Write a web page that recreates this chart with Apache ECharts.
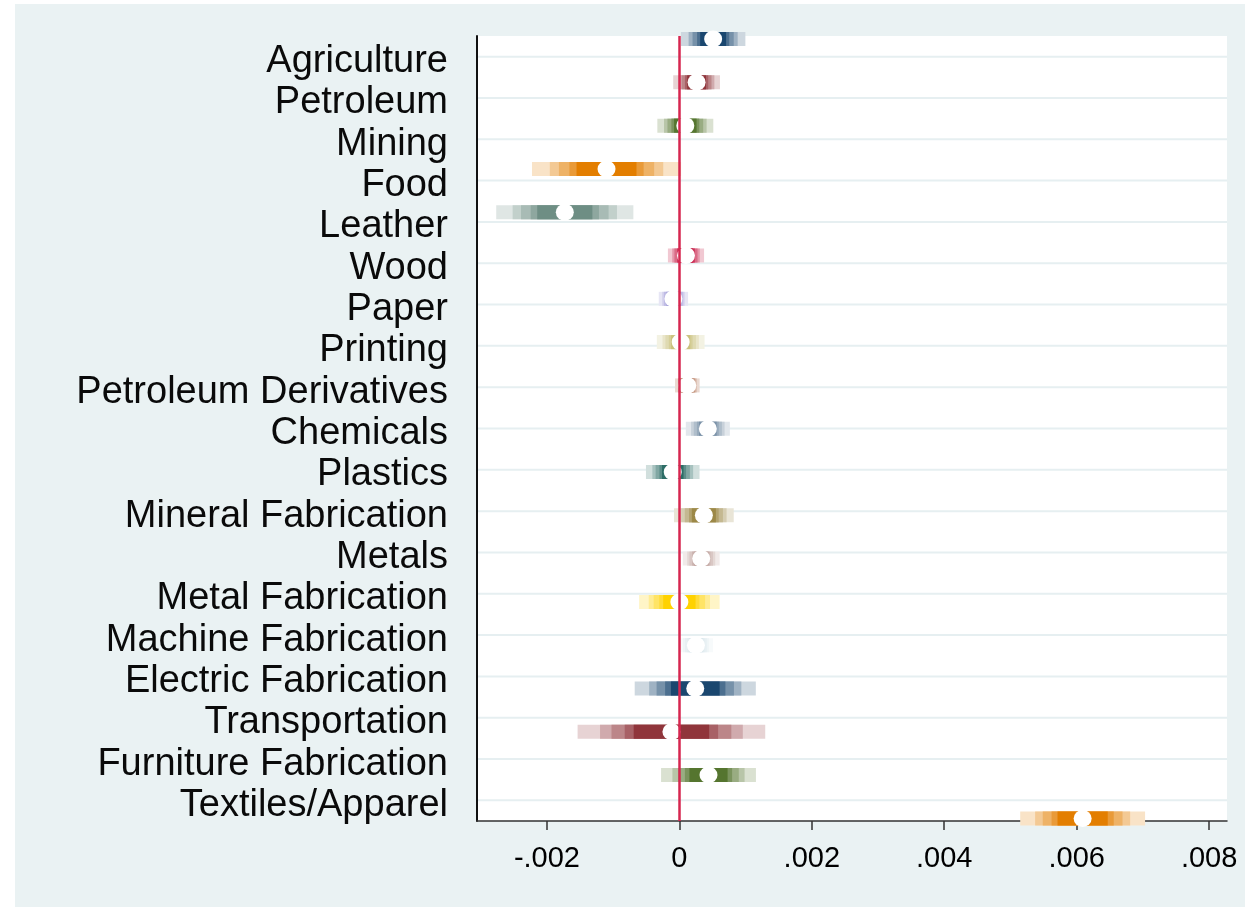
<!DOCTYPE html>
<html>
<head>
<meta charset="utf-8">
<script src="https://cdn.jsdelivr.net/npm/echarts@6/dist/echarts.min.js"></script>
<style>
  html, body { margin: 0; padding: 0; background: #ffffff; width: 1245px; height: 907px; overflow: hidden; }
  #chart { position: absolute; left: 15px; top: 4px; width: 1230px; height: 903px; }
</style>
</head>
<body>
<div id="chart"></div>
<script>
// ---- data ----
const categories = ["Agriculture", "Petroleum", "Mining", "Food", "Leather", "Wood", "Paper", "Printing",
  "Petroleum Derivatives", "Chemicals", "Plastics", "Mineral Fabrication", "Metals", "Metal Fabrication",
  "Machine Fabrication", "Electric Fabrication", "Transportation", "Furniture Fabrication", "Textiles/Apparel"];
const estimates = [0.00051, 0.00026, 0.00009, -0.00110, -0.00173, 0.00010, -0.00009, 0.00002,
  0.00012, 0.00043, -0.00010, 0.00037, 0.00033, 0.00000, 0.00025, 0.00024, -0.00012, 0.00044, 0.00609];
const stdErrors = [0.000189, 0.000137, 0.000164, 0.000437, 0.000402, 0.000106, 0.000086, 0.000140,
  0.000072, 0.000129, 0.000157, 0.000175, 0.000108, 0.000236, 0.000100, 0.000355, 0.000550, 0.000278, 0.000366];
// confidence levels 99, 95, 90, 80, 70 (%) and their critical values
const ciLevels = [99, 95, 90, 80, 70];
const ciZ = [2.576, 1.960, 1.645, 1.282, 1.036];
const xTicks = [-0.002, 0, 0.002, 0.004, 0.006, 0.008];

// ---- styles ----
const rowColors = ["#1a476f", "#90353b", "#55752f", "#e37e00", "#6e8e84", "#c10534", "#938dd2", "#cac27e",
  "#a0522d", "#7b92a8", "#2d6d66", "#9c8847", "#bfa19c", "#ffd200", "#d9e6eb",
  "#1a476f", "#90353b", "#55752f", "#e37e00"];
const levelAlpha = [0.22, 0.42, 0.6, 0.78, 1.0];
const FONT = "'Liberation Sans', Arial, sans-serif";

function mixWhite(hex, a) {
  const r = parseInt(hex.slice(1, 3), 16), g = parseInt(hex.slice(3, 5), 16), b = parseInt(hex.slice(5, 7), 16);
  const f = c => Math.round(255 * (1 - a) + c * a);
  return 'rgb(' + f(r) + ',' + f(g) + ',' + f(b) + ')';
}
function fmtTick(v) {
  if (Math.abs(v) < 1e-12) return '0';
  return (v < 0 ? '-' : '') + Math.abs(v).toFixed(3).replace(/^0/, '');
}

const chart = echarts.init(document.getElementById('chart'), null, { renderer: 'canvas' });

const bandData = estimates.map((m, i) => [i, m, stdErrors[i]]);
const dotData = estimates.map((m, i) => [m, i]);
const gridData = categories.map(c => [0, c]);

const option = {
  backgroundColor: '#eaf2f3',
  animation: false,
  grid: {
    left: 462, top: 32, width: 750, height: 785,
    show: true, backgroundColor: '#ffffff', borderWidth: 0,
    containLabel: false, outerBoundsMode: 'none'
  },
  xAxis: {
    type: 'value',
    min: -0.003056, max: 0.00827,
    splitLine: { show: false },
    axisLine: { show: true, onZero: false, lineStyle: { color: '#333333', width: 1.5 } },
    axisTick: { show: true, length: 9, customValues: xTicks, lineStyle: { color: '#333333', width: 1.5 } },
    axisLabel: { customValues: xTicks, formatter: fmtTick, fontFamily: FONT, fontSize: 29, color: '#000000', margin: 23 }
  },
  yAxis: [
    {
      type: 'category',
      data: categories,
      inverse: true,
      boundaryGap: true,
      axisLine: { show: true, onZero: false, lineStyle: { color: '#111111', width: 2 } },
      axisTick: { show: false },
      splitLine: { show: false },
      axisLabel: {
        interval: 0, margin: 29,
        formatter: function (v) { return '{lab|' + v + '}'; },
        rich: { lab: { fontFamily: FONT, fontSize: 38, color: '#0a0a0a', padding: [10, 0, 0, 0] } }
      }
    },
    {
      type: 'value',
      min: -0.07, max: 18.06,
      inverse: true,
      show: false,
      splitLine: { show: false }
    }
  ],
  series: [
    {
      // horizontal grid lines at each category
      type: 'custom',
      yAxisIndex: 0,
      z: 1,
      silent: true,
      data: gridData,
      encode: { x: 0, y: 1 },
      renderItem: function (params, api) {
        const p = api.coord([0, api.value(1)]);
        const cs = params.coordSys;
        return {
          type: 'line',
          shape: { x1: cs.x + 1, y1: p[1], x2: cs.x + cs.width, y2: p[1] },
          style: { stroke: '#e6eff1', lineWidth: 2 }
        };
      }
    },
    {
      // graded confidence intervals
      type: 'custom',
      yAxisIndex: 1,
      z: 2,
      silent: true,
      data: bandData,
      encode: { x: 1, y: 0 },
      renderItem: function (params, api) {
        const i = api.value(0), m = api.value(1), s = api.value(2);
        const color = rowColors[i];
        const children = [];
        for (let k = 0; k < ciZ.length; k++) {
          const lo = api.coord([m - ciZ[k] * s, i]);
          const hi = api.coord([m + ciZ[k] * s, i]);
          children.push({
            type: 'rect',
            shape: { x: lo[0], y: lo[1] - 7, width: hi[0] - lo[0], height: 14 },
            style: { fill: mixWhite(color, levelAlpha[k]) }
          });
        }
        return { type: 'group', children: children };
      }
    },
    {
      // zero reference line
      type: 'line',
      yAxisIndex: 1,
      z: 3,
      data: [],
      markLine: {
        silent: true,
        symbol: 'none',
        label: { show: false },
        lineStyle: { color: '#d6264f', width: 2.5, type: 'solid' },
        data: [{ xAxis: 0 }]
      }
    },
    {
      // point estimates
      type: 'scatter',
      yAxisIndex: 1,
      z: 4,
      silent: true,
      symbol: 'circle',
      symbolSize: [18, 17],
      itemStyle: { color: '#ffffff', opacity: 1 },
      data: dotData
    }
  ]
};
chart.setOption(option);
</script>
</body>
</html>
